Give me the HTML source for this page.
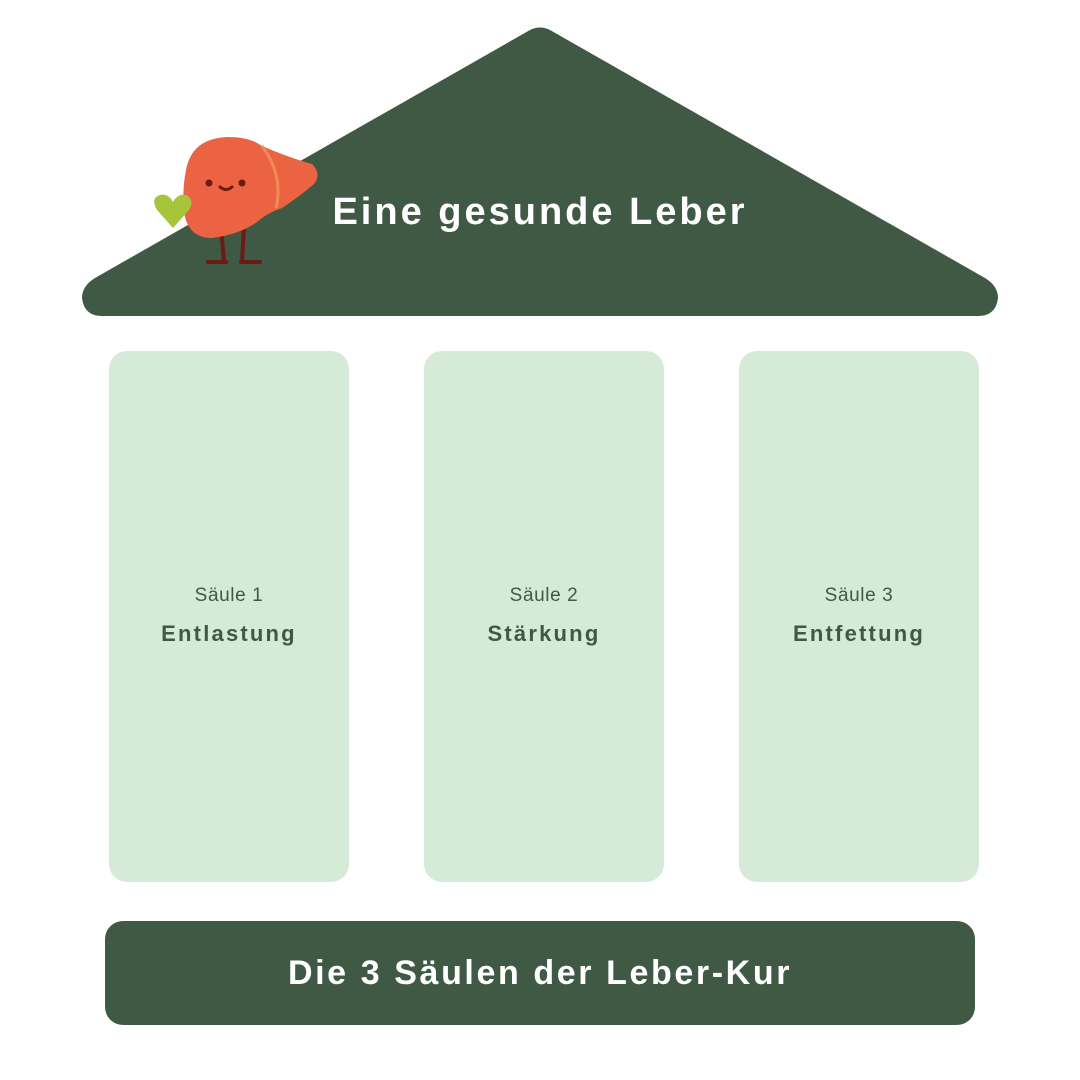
<!DOCTYPE html>
<html><head><meta charset="utf-8"><style>
body{margin:0;width:1080px;height:1080px;background:#fff;position:relative;font-family:"Liberation Sans",sans-serif;overflow:hidden}
.p{position:absolute;top:351px;width:240px;height:531px;background:#d5ebd8;border-radius:18px;text-align:center;color:#3f5945}
.p .a{position:absolute;top:234px;width:100%;font-size:19px;letter-spacing:0.6px}
.p .b{position:absolute;top:270px;width:100%;font-size:22px;font-weight:bold;letter-spacing:2.2px}
.base{position:absolute;left:105px;top:921px;width:870px;height:104px;background:#405944;border-radius:18px;color:#fff;font-weight:bold;font-size:34px;text-align:center;line-height:104px;letter-spacing:2.6px}
</style></head><body>
<svg width="1080" height="330" style="position:absolute;left:0;top:0">
<path d="M530 30 Q540 25 550 30 L985 278 Q998 286 998 298 Q996 316 978 316 L102 316 Q84 316 82 298 Q82 286 95 278 Z" fill="#405944"/>
<text x="540" y="224" text-anchor="middle" font-family="Liberation Sans" font-weight="bold" font-size="38" letter-spacing="3" fill="#fff">Eine gesunde Leber</text>
<g>
<path d="M221 226 L224 262 M244 226 L242 262" stroke="#6b1a14" stroke-width="4" fill="none"/>
<path d="M208 262 H226 M241 262 H260" stroke="#6b1a14" stroke-width="4" stroke-linecap="round"/>
<path d="M186 170 Q192 138 228 137 Q250 137 262 146 Q290 158 312 164 Q322 174 314 184 Q300 196 282 208 Q270 212 262 218 Q244 234 212 238 Q188 238 184 212 Q182 190 186 170 Z" fill="#ec6344"/>
<path d="M262 146 Q284 176 276 208" stroke="#f28a55" stroke-width="3" fill="none"/>
<circle cx="209" cy="183" r="3.5" fill="#6b1a14"/><circle cx="242" cy="183" r="3.5" fill="#6b1a14"/>
<path d="M220 187 Q226 192 232 187" stroke="#6b1a14" stroke-width="3" fill="none" stroke-linecap="round"/>
<path d="M173 228 L157 210 Q150 198 160 195 Q168 193 173 202 Q178 193 186 195 Q195 200 189 210 Z" fill="#a6c53a"/>
</g>
</svg>
<div class="p" style="left:109px"><div class="a">Säule 1</div><div class="b">Entlastung</div></div>
<div class="p" style="left:424px"><div class="a">Säule 2</div><div class="b">Stärkung</div></div>
<div class="p" style="left:739px"><div class="a">Säule 3</div><div class="b">Entfettung</div></div>
<div class="base">Die 3 Säulen der Leber-Kur</div>
</body></html>
